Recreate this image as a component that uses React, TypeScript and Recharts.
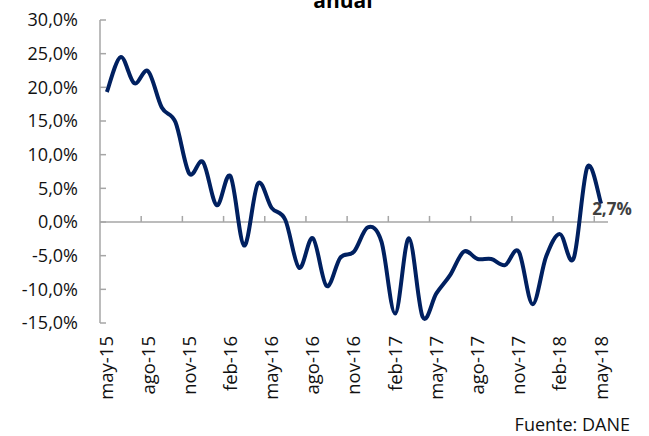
import React from 'react';
import { LineChart, Line, XAxis, YAxis, ReferenceLine } from 'recharts';

const months = [
  'may-15', 'jun-15', 'jul-15', 'ago-15', 'sep-15', 'oct-15', 'nov-15', 'dic-15', 'ene-16', 'feb-16',
  'mar-16', 'abr-16', 'may-16', 'jun-16', 'jul-16', 'ago-16', 'sep-16', 'oct-16', 'nov-16', 'dic-16',
  'ene-17', 'feb-17', 'mar-17', 'abr-17', 'may-17', 'jun-17', 'jul-17', 'ago-17', 'sep-17', 'oct-17',
  'nov-17', 'dic-17', 'ene-18', 'feb-18', 'mar-18', 'abr-18', 'may-18',
];

// variación anual (%)
const values = [
  19.3, 24.5, 20.6, 22.4, 17.0, 14.8, 7.2, 8.9, 2.5, 6.8,
  -3.5, 5.7, 2.1, 0.3, -6.8, -2.4, -9.5, -5.3, -4.4, -0.8,
  -2.9, -13.6, -2.4, -14.1, -10.6, -7.9, -4.4, -5.5, -5.5, -6.4,
  -4.4, -12.2, -5.1, -1.8, -5.4, 8.2, 2.7,
];

const yTicks = [-15, -10, -5, 0, 5, 10, 15, 20, 25, 30];

const data = months.map((m, i) => ({ idx: i, month: m, value: values[i] }));
const labelTicks = months.map((_, i) => i).filter((i) => i % 3 === 0);
const boundaryTicks = labelTicks.filter((i) => i > 0).map((i) => i - 0.5);

const navy = '#002060';
const axisGray = '#A6A6A6';
const fontFamily = "'Open Sans', sans-serif";

const fmtPct = (v: number) => v.toFixed(1).replace('.', ',') + '%';

// smoothed line similar to Excel (Catmull-Rom through the points)
function smoothCurve(context: any) {
  let pts: number[][] = [];
  return {
    areaStart() {},
    areaEnd() {},
    lineStart() {
      pts = [];
    },
    point(x: number, y: number) {
      pts.push([+x, +y]);
    },
    lineEnd() {
      if (!pts.length) return;
      context.moveTo(pts[0][0], pts[0][1]);
      for (let i = 0; i < pts.length - 1; i++) {
        const p0 = pts[Math.max(i - 1, 0)];
        const p1 = pts[i];
        const p2 = pts[i + 1];
        const p3 = pts[Math.min(i + 2, pts.length - 1)];
        context.bezierCurveTo(
          p1[0] + (p2[0] - p0[0]) / 6, p1[1] + (p2[1] - p0[1]) / 6,
          p2[0] - (p3[0] - p1[0]) / 6, p2[1] - (p3[1] - p1[1]) / 6,
          p2[0], p2[1],
        );
      }
    },
  };
}

const MonthTick = (props: any) => {
  const { x, y, payload } = props;
  const ty = y + 13;
  return (
    <text
      x={x}
      y={ty}
      dy="0.35em"
      transform={`rotate(-90, ${x}, ${ty})`}
      textAnchor="end"
      fontSize={18.5}
      fill="#111"
      fontFamily={fontFamily}
    >
      {months[payload.value]}
    </text>
  );
};

const LastLabel = (props: any) => {
  const { x, y, index, value } = props;
  if (index !== values.length - 1) return null;
  return (
    <text x={x - 9} y={y + 11} fontSize={17} fontWeight="bold" fill="#404040" fontFamily={fontFamily}>
      {fmtPct(value)}
    </text>
  );
};

const App: React.FC = () => {
  return (
    <div style={{ position: 'absolute', left: 0, top: 0, width: 649, height: 436, background: '#fff', fontFamily }}>
      <LineChart width={649} height={436} data={data} margin={{ top: 20, right: 41, left: 0, bottom: 0 }}>
        <XAxis
          type="number"
          dataKey="idx"
          domain={[-0.5, 36.5]}
          ticks={labelTicks}
          interval={0}
          tick={<MonthTick />}
          tickLine={false}
          axisLine={false}
          tickSize={0}
          tickMargin={0}
          height={113}
        />
        <YAxis
          domain={[-15, 30]}
          ticks={yTicks}
          interval={0}
          tickFormatter={fmtPct}
          width={100}
          tick={{ fontSize: 18, fill: '#111' }}
          axisLine={{ stroke: axisGray, strokeWidth: 1.5 }}
          tickLine={{ stroke: axisGray, strokeWidth: 1.5 }}
          tickSize={-6}
          tickMargin={28}
        />
        <ReferenceLine y={0} stroke={axisGray} strokeWidth={1.5} />
        {boundaryTicks.map((b) => (
          <ReferenceLine
            key={b}
            segment={[{ x: b, y: 0 }, { x: b, y: 0.9 }]}
            stroke={axisGray}
            strokeWidth={1.5}
          />
        ))}
        <Line
          dataKey="value"
          type={smoothCurve as any}
          stroke={navy}
          strokeWidth={4}
          dot={false}
          isAnimationActive={false}
          label={<LastLabel />}
        />
      </LineChart>
      <svg width={649} height={436} style={{ position: 'absolute', left: 0, top: 0, pointerEvents: 'none' }}>
        <text x={343} y={8} textAnchor="middle" fontSize={21} fontWeight="bold" fill="#000" fontFamily={fontFamily}>
          anual
        </text>
        <text x={630} y={431} textAnchor="end" fontSize={18} fill="#111" fontFamily={fontFamily}>
          Fuente: DANE
        </text>
      </svg>
    </div>
  );
};

export default App;
